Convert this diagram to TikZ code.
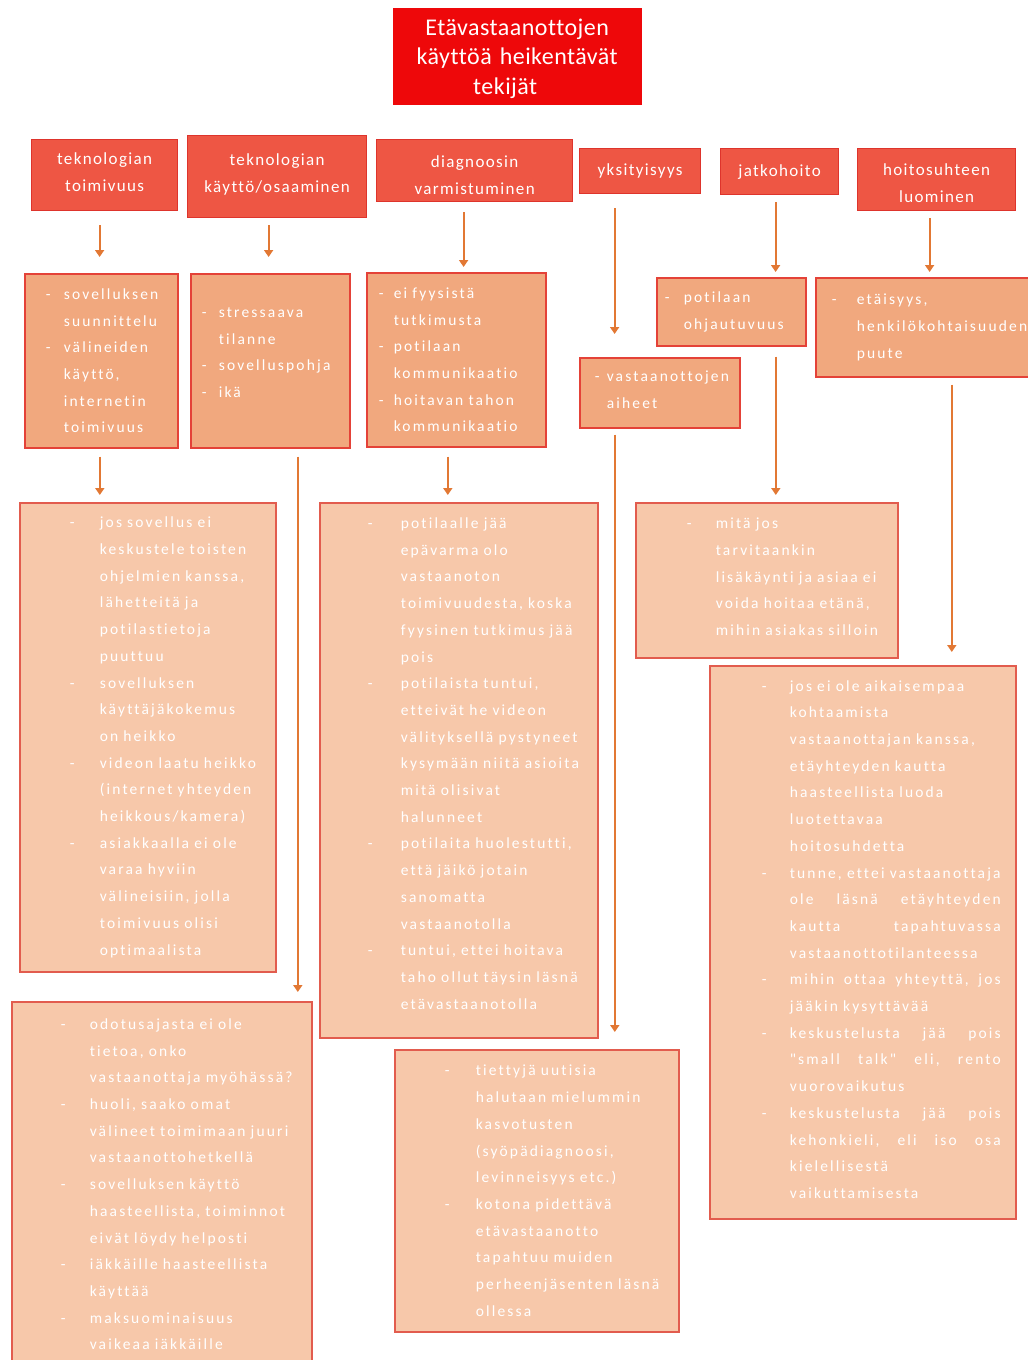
\documentclass[tikz,border=0pt]{standalone}
\usepackage{fontspec}
\setmainfont{Carlito}
\newfontfamily\titleFace{Carlito}[LetterSpace=2, Ligatures=NoCommon]
\newfontfamily\topicFace{Carlito}[LetterSpace=8, Ligatures=NoCommon]
\newfontfamily\spreadFace{Carlito}[LetterSpace=14, Ligatures=NoCommon]
\usetikzlibrary{arrows.meta}
\definecolor{titleRed}{RGB}{238,8,10}
\definecolor{topicFill}{RGB}{238,86,68}
\definecolor{topicLine}{RGB}{222,52,44}
\definecolor{causeFill}{RGB}{241,168,126}
\definecolor{causeLine}{RGB}{228,66,56}
\definecolor{detailFill}{RGB}{247,200,170}
\definecolor{detailLine}{RGB}{226,92,78}
\definecolor{flowColor}{RGB}{226,120,52}
\newcommand{\titleFont}{\titleFace\fontsize{24}{29.5}\selectfont}
\newcommand{\topicFont}{\topicFace\fontsize{17}{27}\selectfont}
\newcommand{\boxFont}{\spreadFace\fontsize{15.5}{26.7}\selectfont}
\newlength{\padW}
\newlength{\hangW}
\newcommand{\dashItem}{\hspace*{\padW}\makebox[\hangW][l]{-}}
\newcommand{\dashCont}{\hspace*{\padW}\hspace*{\hangW}}
\newcommand{\fullLine}[1]{\makebox[211pt][l]{#1}}
% nudge text inside a box: \dropText at the start moves it down, \liftText at the end moves it up
\newcommand{\dropText}[1]{\rule{0pt}{#1pt}}
\newcommand{\liftText}[1]{\\[-#1pt]\mbox{}}
\tikzstyle{sheet} = [x = 1pt, y = -1pt]
\tikzstyle{titleBox} = [fill=titleRed, draw=titleRed, text=white, align=center, anchor=north west, inner sep=0pt, font=\titleFont]
\tikzstyle{topicBox} = [fill=topicFill, draw=topicLine, line width=1.2pt, text=white, align=center, anchor=north west, inner sep=0pt, font=\topicFont]
\tikzstyle{causeBox} = [fill=causeFill, draw=causeLine, line width=1.6pt, text=white, align=left, anchor=north west, inner sep=0pt, font=\boxFont]
\tikzstyle{detailBox} = [fill=detailFill, draw=detailLine, line width=1.6pt, text=white, align=left, anchor=north west, inner sep=0pt, font=\boxFont]
\tikzstyle{flowLine} = [color=flowColor, line width=1.8pt, -{Triangle[width=9pt, length=7pt]}]
\tikzset{
  boxSize/.style 2 args={minimum width=#1pt, minimum height=#2pt, text width=#1pt},
  dashPos/.style 2 args={execute at begin node={\setlength{\padW}{#1pt}\setlength{\hangW}{#2pt}}}
}
\newcommand{\flowArrow}[5]{\draw [flowLine, shorten <=#4pt, shorten >=#5pt] ([xshift=#3pt]#1.south) -- ([xshift=#3pt]#1.south |- #2.north);}

\begin{document}
\begin{tikzpicture}[sheet]
\useasboundingbox (0,0) rectangle (1028,1360);
% title
\node [titleBox, boxSize={248}{96}] (title) at (393,8) {\dropText{21.5}Etävastaanottojen\hspace*{24pt}\\käyttöä heikentävät\hspace*{24pt}\\tekijät\hspace*{24pt}};
% topics
\node [topicBox, boxSize={146}{71}] (t1) at (31,139) {teknologian\\toimivuus\liftText{21}};
\node [topicBox, boxSize={179}{82}] (t2) at (187,135) {teknologian\\käyttö/osaaminen\liftText{19}};
\node [topicBox, boxSize={196}{62}] (t3) at (376,139) {\dropText{21}diagnoosin\\varmistuminen};
\node [topicBox, boxSize={121}{45}] (t4) at (579,148) {yksityisyys};
\node [topicBox, boxSize={118}{46}] (t5) at (720,148) {jatkohoito};
\node [topicBox, boxSize={158}{62}] (t6) at (857,148) {\dropText{19}hoitosuhteen\\luominen};
% causes
\node [causeBox, boxSize={153}{174}, dashPos={21}{18}] (na) at (24,273) {\dashItem sovelluksen\\ \dashCont suunnittelu\\ \dashItem välineiden\\ \dashCont käyttö,\\ \dashCont internetin\\ \dashCont toimivuus};
\node [causeBox, boxSize={159}{174}, dashPos={11}{17}] (nb) at (190,273) {\dashItem stressaava\\ \dashCont tilanne\\ \dashItem sovelluspohja\\ \dashItem ikä\liftText{10}};
\node [causeBox, boxSize={179}{174}, dashPos={12}{15}] (nc) at (366,272) {\dashItem ei fyysistä\\ \dashCont tutkimusta\\ \dashItem potilaan\\ \dashCont kommunikaatio\\ \dashItem hoitavan tahon\\ \dashCont kommunikaatio};
\node [causeBox, boxSize={160}{70}, dashPos={15}{12}] (nd) at (579,357) {\dashItem vastaanottojen\\ \dashCont aiheet\liftText{21}};
\node [causeBox, boxSize={149}{68}, dashPos={8}{19}] (ne) at (656,277) {\dashItem potilaan\\ \dashCont ohjautuvuus};
\node [causeBox, boxSize={220}{99}, dashPos={16}{25}] (nf) at (815,277) {\dashItem etäisyys,\\ \dashCont henkilökohtaisuuden\\ \dashCont puute};
% details
\node [detailBox, boxSize={256}{469}, dashPos={50}{30}] (A3) at (19,502) {\dashItem jos sovellus ei\\ \dashCont keskustele toisten\\ \dashCont ohjelmien kanssa,\\ \dashCont lähetteitä ja\\ \dashCont potilastietoja\\ \dashCont puuttuu\\ \dashItem sovelluksen\\ \dashCont käyttäjäkokemus\\ \dashCont on heikko\\ \dashItem videon laatu heikko\\ \dashCont (internet yhteyden\\ \dashCont heikkous/kamera)\\ \dashItem asiakkaalla ei ole\\ \dashCont varaa hyviin\\ \dashCont välineisiin, jolla\\ \dashCont toimivuus olisi\\ \dashCont optimaalista};
\node [detailBox, boxSize={300}{365}, dashPos={49}{29}] (B3) at (11,1001) {\dashItem odotusajasta ei ole\\ \dashCont tietoa, onko\\ \dashCont vastaanottaja myöhässä?\\ \dashItem huoli, saako omat\\ \dashCont välineet toimimaan juuri\\ \dashCont vastaanottohetkellä\\ \dashItem sovelluksen käyttö\\ \dashCont haasteellista, toiminnot\\ \dashCont eivät löydy helposti\\ \dashItem iäkkäille haasteellista\\ \dashCont käyttää\\ \dashItem maksuominaisuus\\ \dashCont vaikeaa iäkkäille};
\node [detailBox, boxSize={278}{535}, dashPos={48}{33}] (C3) at (319,502) {\dashItem potilaalle jää\\ \dashCont epävarma olo\\ \dashCont vastaanoton\\ \dashCont toimivuudesta, koska\\ \dashCont fyysinen tutkimus jää\\ \dashCont pois\\ \dashItem potilaista tuntui,\\ \dashCont etteivät he videon\\ \dashCont välityksellä pystyneet\\ \dashCont kysymään niitä asioita\\ \dashCont mitä olisivat\\ \dashCont halunneet\\ \dashItem potilaita huolestutti,\\ \dashCont että jäikö jotain\\ \dashCont sanomatta\\ \dashCont vastaanotolla\\ \dashItem tuntui, ettei hoitava\\ \dashCont taho ollut täysin läsnä\\ \dashCont etävastaanotolla\liftText{13}};
\node [detailBox, boxSize={284}{282}, dashPos={50}{31}] (D3) at (394,1049) {\dashItem tiettyjä uutisia\\ \dashCont halutaan mielummin\\ \dashCont kasvotusten\\ \dashCont (syöpädiagnoosi,\\ \dashCont levinneisyys etc.)\\ \dashItem kotona pidettävä\\ \dashCont etävastaanotto\\ \dashCont tapahtuu muiden\\ \dashCont perheenjäsenten läsnä\\ \dashCont ollessa};
\node [detailBox, boxSize={262}{155}, dashPos={51}{29}] (E3) at (635,502) {\dashItem mitä jos\\ \dashCont tarvitaankin\\ \dashCont lisäkäynti ja asiaa ei\\ \dashCont voida hoitaa etänä,\\ \dashCont mihin asiakas silloin\liftText{20}};
\node [detailBox, boxSize={306}{553}, dashPos={52}{28}] (F3) at (709,665) {\dashItem jos ei ole aikaisempaa\\ \dashCont kohtaamista\\ \dashCont vastaanottajan kanssa,\\ \dashCont etäyhteyden kautta\\ \dashCont haasteellista luoda\\ \dashCont luotettavaa\\ \dashCont hoitosuhdetta\\ \dashItem tunne, ettei vastaanottaja\\ \dashCont \fullLine{ole\hfill läsnä\hfill etäyhteyden}\\ \dashCont \fullLine{kautta\hfill tapahtuvassa}\\ \dashCont vastaanottotilanteessa\\ \dashItem \fullLine{mihin\hfill ottaa\hfill yhteyttä,\hfill jos}\\ \dashCont jääkin kysyttävää\\ \dashItem \fullLine{keskustelusta\hfill jää\hfill pois}\\ \dashCont \fullLine{"small\hfill talk"\hfill eli,\hfill rento}\\ \dashCont vuorovaikutus\\ \dashItem \fullLine{keskustelusta\hfill jää\hfill pois}\\ \dashCont \fullLine{kehonkieli,\hfill eli\hfill iso\hfill osa}\\ \dashCont kielellisestä\\ \dashCont vaikuttamisesta\liftText{21}};
% arrows
\flowArrow{t1}{na}{-5}{14}{16}
\flowArrow{t2}{nb}{-8.5}{7}{16}
\flowArrow{t3}{nc}{-11}{10}{5}
\flowArrow{t4}{nd}{-25.5}{14}{23}
\flowArrow{t5}{ne}{-4}{7}{5}
\flowArrow{t6}{nf}{-7}{7}{5}
\flowArrow{na}{A3}{-1.5}{8}{7}
\flowArrow{nb}{B3}{27.5}{8}{9}
\flowArrow{nc}{C3}{-8.5}{9}{7}
\flowArrow{nd}{D3}{-45}{6}{17}
\flowArrow{ne}{E3}{44.5}{10}{7}
\flowArrow{nf}{F3}{26}{7}{13}
\end{tikzpicture}
\end{document}
